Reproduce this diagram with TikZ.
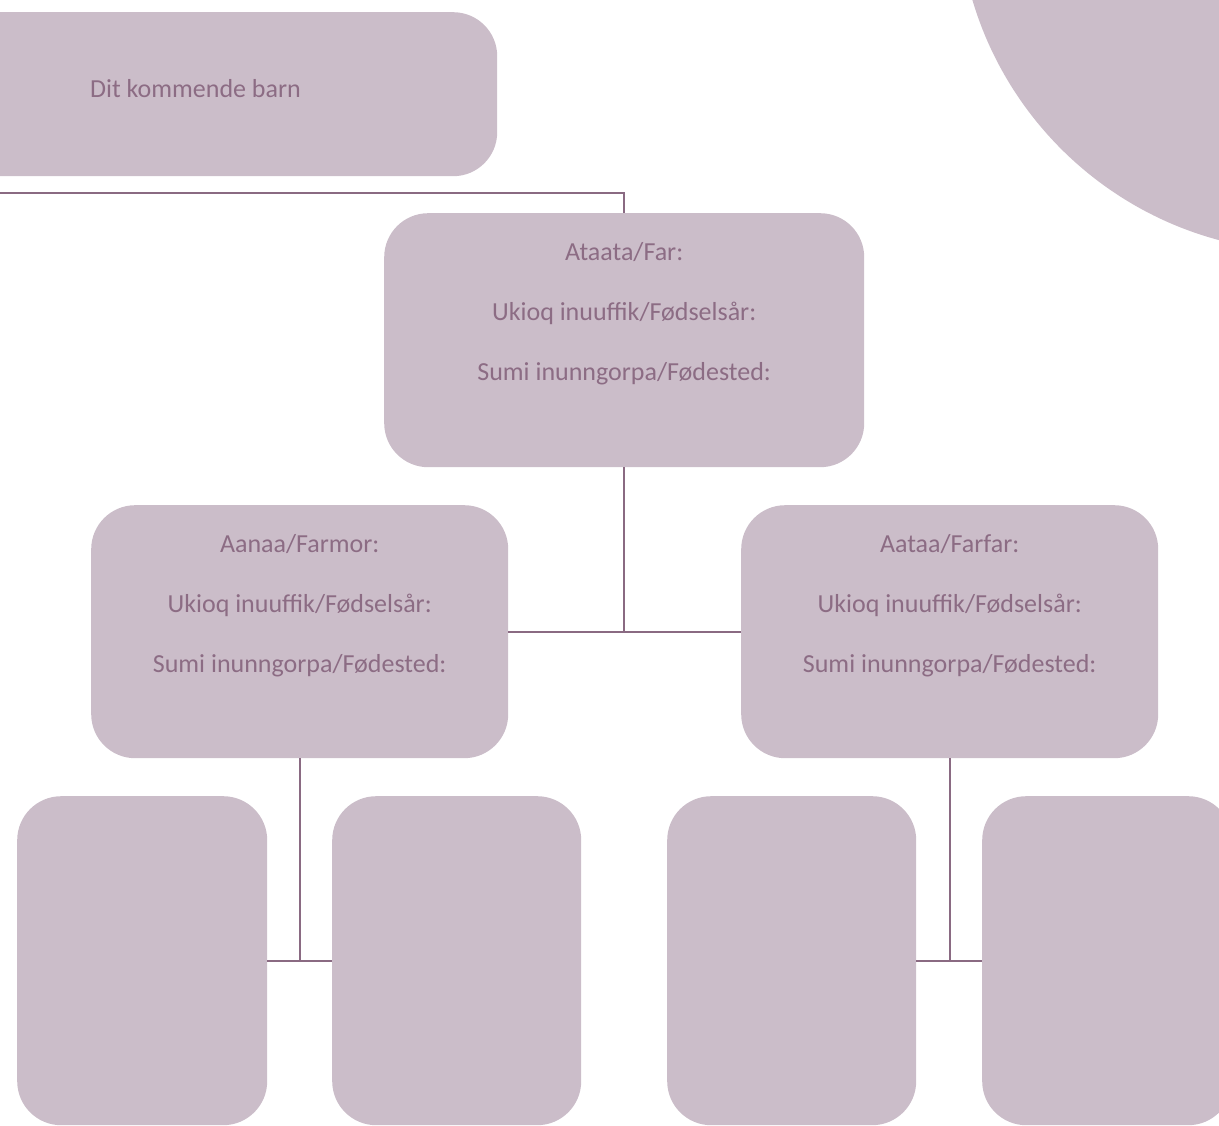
\documentclass[tikz,border=0pt]{standalone}
\usepackage{fontspec}
\setmainfont{Carlito}
\usetikzlibrary{calc}
\definecolor{boxfill}{RGB}{203,189,201}
\definecolor{linecol}{RGB}{138,106,130}
\definecolor{textcol}{RGB}{140,108,132}
\begin{document}
\begin{tikzpicture}[x=1pt,y=-1pt,
  famebox/.style={rectangle,fill=boxfill,draw=none,rounded corners=44pt,inner sep=0pt,anchor=north west},
  conn/.style={draw=linecol,line width=2pt},
  lbl/.style={text=textcol,font=\fontsize{26}{30}\selectfont,inner sep=0pt,anchor=base}]
\useasboundingbox (0,0) rectangle (1219,1126);
\clip (0,0) rectangle (1219,1126);
\fill[boxfill] (1310,-100) circle[radius=352];
% boxes
\node[famebox,minimum width=547pt,minimum height=164pt] (child) at (-50,12) {};
\node[famebox,minimum width=480pt,minimum height=254pt] (far) at (384,213) {};
\node[famebox,minimum width=417pt,minimum height=253pt] (farmor) at (91,505) {};
\node[famebox,minimum width=417pt,minimum height=253pt] (farfar) at (741,505) {};
\node[famebox,minimum width=250pt,minimum height=329pt] (b1) at (17,796) {};
\node[famebox,minimum width=249pt,minimum height=329pt] (b2) at (332,796) {};
\node[famebox,minimum width=249pt,minimum height=329pt] (b3) at (667,796) {};
\node[famebox,minimum width=250pt,minimum height=329pt] (b4) at (982,796) {};
% texts
\node[lbl,anchor=base west] (tchild) at (90,98) {Dit kommende barn};
\node[lbl] (tfar1) at ($(far.north)+(0,48)$) {Ataata/Far:};
\node[lbl] (tfar2) at ($(far.north)+(0,107)$) {Ukioq inuuffik/Fødselsår:};
\node[lbl] (tfar3) at ($(far.north)+(0,167)$) {Sumi inunngorpa/Fødested:};
\node[lbl] (tfm1) at ($(farmor.north)+(0,47)$) {Aanaa/Farmor:};
\node[lbl] (tfm2) at ($(farmor.north)+(0,107)$) {Ukioq inuuffik/Fødselsår:};
\node[lbl] (tfm3) at ($(farmor.north)+(0,167)$) {Sumi inunngorpa/Fødested:};
\node[lbl] (tff1) at ($(farfar.north)+(0,47)$) {Aataa/Farfar:};
\node[lbl] (tff2) at ($(farfar.north)+(0,107)$) {Ukioq inuuffik/Fødselsår:};
\node[lbl] (tff3) at ($(farfar.north)+(0,167)$) {Sumi inunngorpa/Fødested:};
% connectors
\coordinate (cl) at (-5,193);
\draw[conn] (cl) -| (far.north);
\draw[conn] (farmor.east) -- (farfar.west);
\draw[conn] (far.south) -- (far.south |- farmor.east);
\draw[conn] (b1.east) -- (b2.west);
\draw[conn] (farmor.south) -- (farmor.south |- b1.east);
\draw[conn] (b3.east) -- (b4.west);
\draw[conn] (farfar.south) -- (farfar.south |- b3.east);
\end{tikzpicture}
\end{document}
